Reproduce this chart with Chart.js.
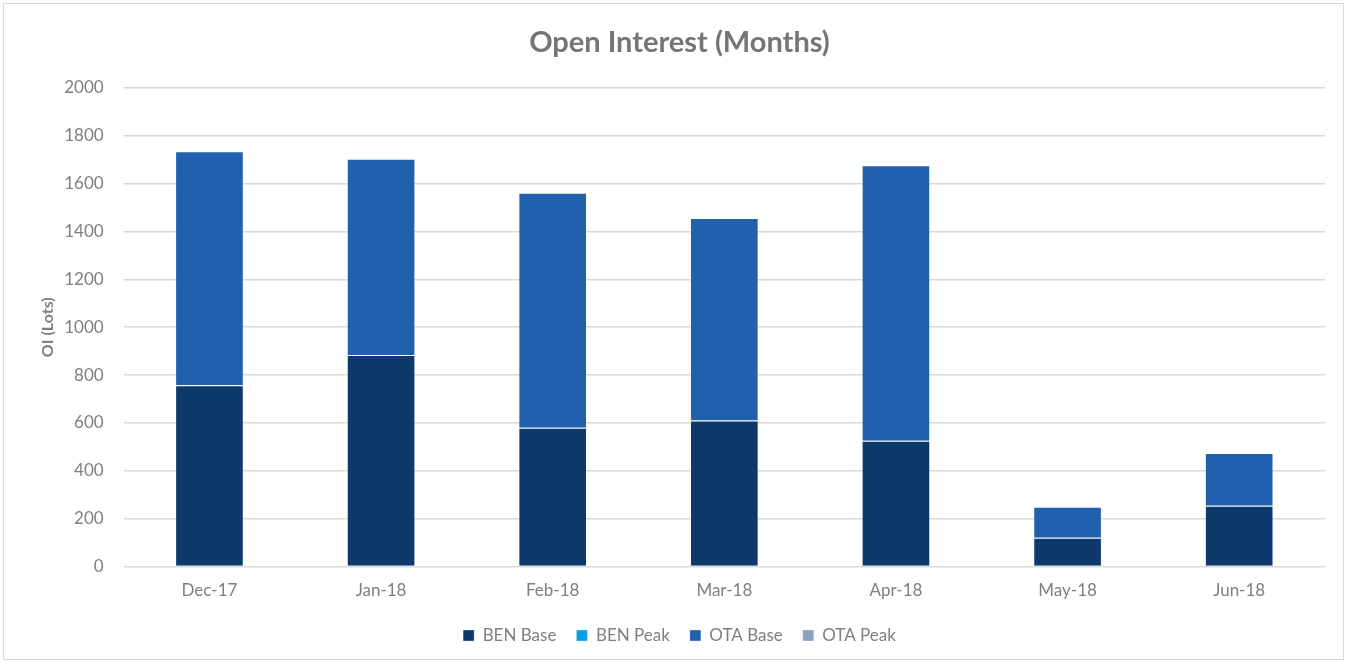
<!DOCTYPE html>
<html>
<head>
<meta charset="utf-8">
<script src="https://cdn.jsdelivr.net/npm/chart.js@4/dist/chart.umd.min.js"></script>
<style>
    html, body { margin: 0; padding: 0; background: #fff; }
    #wrap {
        position: absolute; left: 3px; top: 3px;
        width: 1341px; height: 657px;
        border: 1px solid #d9d9d9; box-sizing: border-box;
    }
    canvas { display: block; }
</style>
</head>
<body>
<div id="wrap"><canvas id="chart"></canvas></div>
<script>
let months = ["Dec-17", "Jan-18", "Feb-18", "Mar-18", "Apr-18", "May-18", "Jun-18"];
let benBase = [758, 884, 580, 610, 526, 120, 254];
let benPeak = [0, 0, 0, 0, 0, 0, 0];
let otaBase = [977, 820, 982, 846, 1150, 130, 220];
let otaPeak = [0, 0, 0, 0, 0, 0, 0];
let yTicks = [0, 200, 400, 600, 800, 1000, 1200, 1400, 1600, 1800, 2000];

let fontName = "Lato, 'Open Sans', sans-serif";
let ctx = document.getElementById("chart").getContext("2d");

function ds(label, data, color) {
    return {
        label, data, backgroundColor: color,
        borderColor: "rgba(255,255,255,0.3)", borderWidth: 1,
        barPercentage: 0.4, categoryPercentage: 1.0, stack: "oi"
    };
}

let chartInstance = new Chart(ctx, {
    type: "bar",
    data: {
        labels: months,
        datasets: [
            ds("BEN Base", benBase, "#0e3a6b"),
            ds("BEN Peak", benPeak, "#00a2e1"),
            ds("OTA Base", otaBase, "#2160ad"),
            ds("OTA Peak", otaPeak, "#8aa3bd")
        ]
    },
    options: {
        responsive: true,
        maintainAspectRatio: false,
        animation: false,
        layout: { padding: { left: 30, right: 18, top: 10, bottom: 5 } },
        plugins: {
            title: {
                display: true,
                text: "Open Interest (Months)",
                color: "#757575",
                font: { family: fontName, size: 29, weight: "bold" },
                padding: { top: 11, bottom: 28 }
            },
            legend: {
                position: "bottom",
                labels: {
                    color: "#7f7f7f",
                    font: { family: fontName, size: 17 },
                    boxWidth: 11, boxHeight: 11, padding: 20
                }
            },
            tooltip: { enabled: false }
        },
        scales: {
            x: {
                stacked: true,
                grid: { display: false },
                border: { display: false },
                ticks: { color: "#7f7f7f", font: { family: fontName, size: 17 }, padding: 6 }
            },
            y: {
                stacked: true,
                min: 0, max: 2000,
                afterBuildTicks: axis => { axis.ticks = yTicks.map(v => ({ value: v })); },
                grid: { color: "#d9d9d9", lineWidth: 1.5, drawTicks: false },
                border: { display: false },
                ticks: {
                    color: "#7f7f7f", font: { family: fontName, size: 17 }, padding: 20,
                    callback: v => String(v)
                },
                title: {
                    display: true, text: "OI (Lots)", color: "#7f7f7f",
                    font: { family: fontName, size: 16, weight: "bold" }, padding: { top: 4, bottom: -13 }
                }
            }
        }
    }
});
</script>
</body>
</html>
